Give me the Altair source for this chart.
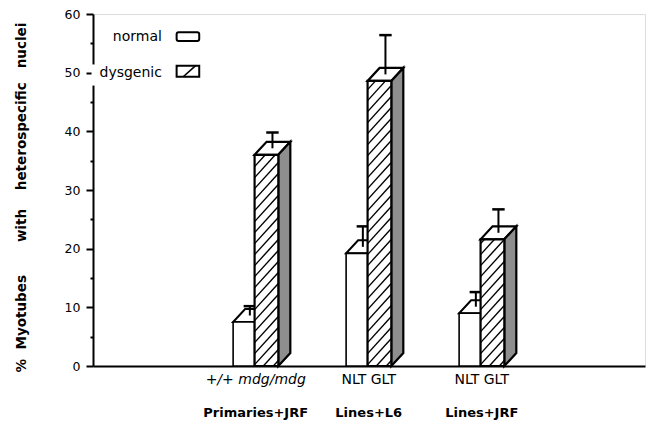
import altair as alt
import pandas as pd

# ---------------- data ----------------
groups = ["Primaries+JRF", "Lines+L6", "Lines+JRF"]
genotypes = ["+/+ mdg/mdg", "NLT GLT", "NLT GLT"]
genotype_italic = [True, False, False]
series = ["normal", "dysgenic"]
normal_mean = [7.5, 19.2, 9.0]
normal_err = [2.7, 4.6, 3.6]
dysgenic_mean = [36.0, 48.6, 21.6]
dysgenic_err = [3.8, 7.8, 5.1]
y_ticks = list(range(0, 61, 5))
NB = "\u00a0"
y_title = ("%" + NB * 2 + "Myotubes" + NB * 7 + "with" + NB * 4 + "heterospecific"
           + NB * 3 + "nuclei")

# ---------------- layout constants ----------------
TOP = 6
W, H = 552, 352
X_MAX = 4.885
Y_MAX = 60
ppx = W / X_MAX
ppy = H / Y_MAX
FIRST = 1.5
NL, NR = -0.26, -0.07
DL, DR = -0.07, 0.14
DX = 12 / ppx
DY = 13 / ppy
CAP = 0.055
FONT = "DejaVu Sans"

XS = alt.Scale(domain=[0, X_MAX], nice=False, zero=False)
YS = alt.Scale(domain=[0, Y_MAX], nice=False, zero=False)
XAX = alt.Axis(labels=False, ticks=False, title=None, grid=False, domainWidth=2,
               domainColor="black")
YAX = alt.Axis(values=y_ticks, grid=False,
               labelExpr="datum.value % 10 === 0 ? datum.label : ''",
               tickSize={"condition": {"test": "datum.value % 10 === 0", "value": 7}, "value": 3},
               tickWidth=2, tickColor="black", domainWidth=2, domainColor="black",
               labelFont=FONT, labelFontSize=12.5, labelColor="black", labelPadding=6,
               title=y_title, titleFont=FONT, titleFontSize=13.5, titleFontWeight="bold",
               titleColor="black", titleAngle=270, titleX=-72, titleY=183,
               titleBaseline="middle", titleAlign="center")


def X(f):
    return alt.X(f, type="quantitative", scale=XS, axis=XAX)


def Y(f):
    return alt.Y(f, type="quantitative", scale=YS, axis=YAX)


# ---------------- derived tables ----------------
rows = []
for s, means, errs, (l, r) in [("normal", normal_mean, normal_err, (NL, NR)),
                               ("dysgenic", dysgenic_mean, dysgenic_err, (DL, DR))]:
    for i, g in enumerate(groups):
        c = FIRST + i
        rows.append(dict(series=s, group=g, idx=i, xl=c + l, xr=c + r,
                         base=0.0, top=means[i], err=errs[i]))
bars = pd.DataFrame(rows)


def top_faces(df):
    out = []
    for _, b in df.iterrows():
        pid = f"{b.series}-{b.idx}"
        t = b.top
        out += [dict(pid=pid, x=b.xl, y=t, y2=t),
                dict(pid=pid, x=b.xl + DX, y=t, y2=t + DY),
                dict(pid=pid, x=b.xr, y=t, y2=t + DY),
                dict(pid=pid, x=b.xr + DX, y=t + DY, y2=t + DY)]
    return pd.DataFrame(out)


def side_faces(df):
    out = []
    for _, b in df.iterrows():
        pid = f"{b.series}-{b.idx}"
        out += [dict(pid=pid, x=b.xr, y=0.0, y2=b.top),
                dict(pid=pid, x=b.xr + DX, y=DY, y2=b.top + DY)]
    return pd.DataFrame(out)


def errs(df):
    out = []
    for _, b in df.iterrows():
        xc = (b.xl + b.xr) / 2 + DX / 2
        out.append(dict(x=xc, y=b.top + DY / 2, y2=b.top + b.err,
                        cl=xc - CAP, cr=xc + CAP))
    return pd.DataFrame(out)


def hatch(xl, xr, y0, y1, spacing=11.0, slope=1.1, phase=0.5):
    w = (xr - xl) * ppx
    h = (y1 - y0) * ppy
    segs = []
    b = -slope * w + spacing * phase
    while b < h:
        xa = max(0.0, -b / slope)
        xb = min(w, (h - b) / slope)
        if xb - xa > 0.5:
            segs.append(dict(x=xl + xa / ppx, y=y0 + (b + slope * xa) / ppy,
                             x2=xl + xb / ppx, y2=y0 + (b + slope * xb) / ppy))
        b += spacing
    return segs


norm = bars[bars.series == "normal"]
dys = bars[bars.series == "dysgenic"]

hatch_rows = []
for _, b in dys.iterrows():
    hatch_rows += hatch(b.xl, b.xr, 0.0, b.top)
hatch_df = pd.DataFrame(hatch_rows)

# legend (layout positions in data units)
LEG_TX = 0.61
LEG_BX = (0.74, 0.94)
leg_text = pd.DataFrame({"label": series, "y": [56.0, 50.0]})
leg_box_n = pd.DataFrame([dict(x=LEG_BX[0], x2=LEG_BX[1], y=55.4, y2=56.9)])
leg_box_d = pd.DataFrame([dict(x=LEG_BX[0], x2=LEG_BX[1], y=49.3, y2=51.2)])
leg_hatch = pd.DataFrame(hatch(LEG_BX[0], LEG_BX[1], 49.3, 51.2, spacing=16, slope=0.9, phase=0.9))
gap_df = pd.DataFrame([dict(x=-0.013, x2=0.027, y=47.8, y2=51.4)])

lab_df = pd.DataFrame({"group": groups, "genotype": genotypes,
                       "italic": genotype_italic,
                       "x": [FIRST + i - 0.06 for i in range(len(groups))]})

# ---------------- layers ----------------
def top_layer(df, sw):
    return alt.Chart(top_faces(df)).mark_area(
        orient="vertical", fill="white", stroke="black", strokeWidth=sw, strokeJoin="miter"
    ).encode(x=X("x"), y=Y("y"), y2="y2", detail="pid:N")


def front_layer(df, sw):
    return alt.Chart(df).mark_rect(fill="white", stroke="black", strokeWidth=sw).encode(
        x=X("xl"), x2="xr", y=Y("base"), y2="top")


def err_layers(df):
    e = errs(df)
    stem = alt.Chart(e).mark_rule(color="black", strokeWidth=2).encode(
        x=X("x"), y=Y("y"), y2="y2")
    cap = alt.Chart(e).mark_rule(color="black", strokeWidth=2.5).encode(
        x=X("cl"), x2="cr", y=Y("y2"))
    return [stem, cap]


gap = alt.Chart(gap_df).mark_rect(fill="white").encode(
    x=X("x"), x2="x2", y=Y("y"), y2="y2")

layers = [gap]
layers += [top_layer(norm, 2.0), front_layer(norm, 1.6)] + err_layers(norm)
side = alt.Chart(side_faces(dys)).mark_area(
    orient="vertical", fill="#8e8e8e", stroke="black", strokeWidth=2.2, strokeJoin="miter"
).encode(x=X("x"), y=Y("y"), y2="y2", detail="pid:N")
hatch_layer = alt.Chart(hatch_df).mark_rule(color="black", strokeWidth=1.4).encode(
    x=X("x"), x2="x2", y=Y("y"), y2="y2")
layers += [top_layer(dys, 2.2), side, front_layer(dys, 2.2), hatch_layer]
layers += err_layers(dys)

# legend
layers.append(alt.Chart(leg_text).mark_text(
    align="right", baseline="middle", font=FONT, fontSize=14, color="black"
).encode(x=alt.X("lx:Q", scale=XS, axis=XAX), y=Y("y"), text="label:N").transform_calculate(lx=str(LEG_TX)))
layers.append(alt.Chart(leg_box_n).mark_rect(fill="white", stroke="black", strokeWidth=2,
                                             cornerRadius=2).encode(
    x=X("x"), x2="x2", y=Y("y"), y2="y2"))
layers.append(alt.Chart(leg_box_d).mark_rect(fill="white", stroke="black", strokeWidth=2).encode(
    x=X("x"), x2="x2", y=Y("y"), y2="y2"))
layers.append(alt.Chart(leg_hatch).mark_rule(color="black", strokeWidth=1.6).encode(
    x=X("x"), x2="x2", y=Y("y"), y2="y2"))

# category labels below the axis
for italic in (True, False):
    sub = lab_df[lab_df.italic == italic]
    layers.append(alt.Chart(sub).mark_text(
        align="center", baseline="middle", font=FONT, fontSize=14,
        fontStyle="italic" if italic else "normal", color="black"
    ).encode(x=X("x"), y=alt.value(366), text="genotype:N"))
layers.append(alt.Chart(lab_df).mark_text(
    align="center", baseline="middle", font=FONT, fontSize=13, fontWeight="bold", color="black"
).encode(x=X("x"), y=alt.value(399), text="group:N"))

chart = alt.layer(*layers).properties(
    width=W, height=H,
    autosize=alt.AutoSizeParams(type="none"),
    padding={"left": 85, "top": TOP, "right": 1, "bottom": 414 - TOP - H},
).configure_view(stroke=None).configure(background="white")

chart.save("out.html", embed_options={"renderer": "svg", "actions": False})
